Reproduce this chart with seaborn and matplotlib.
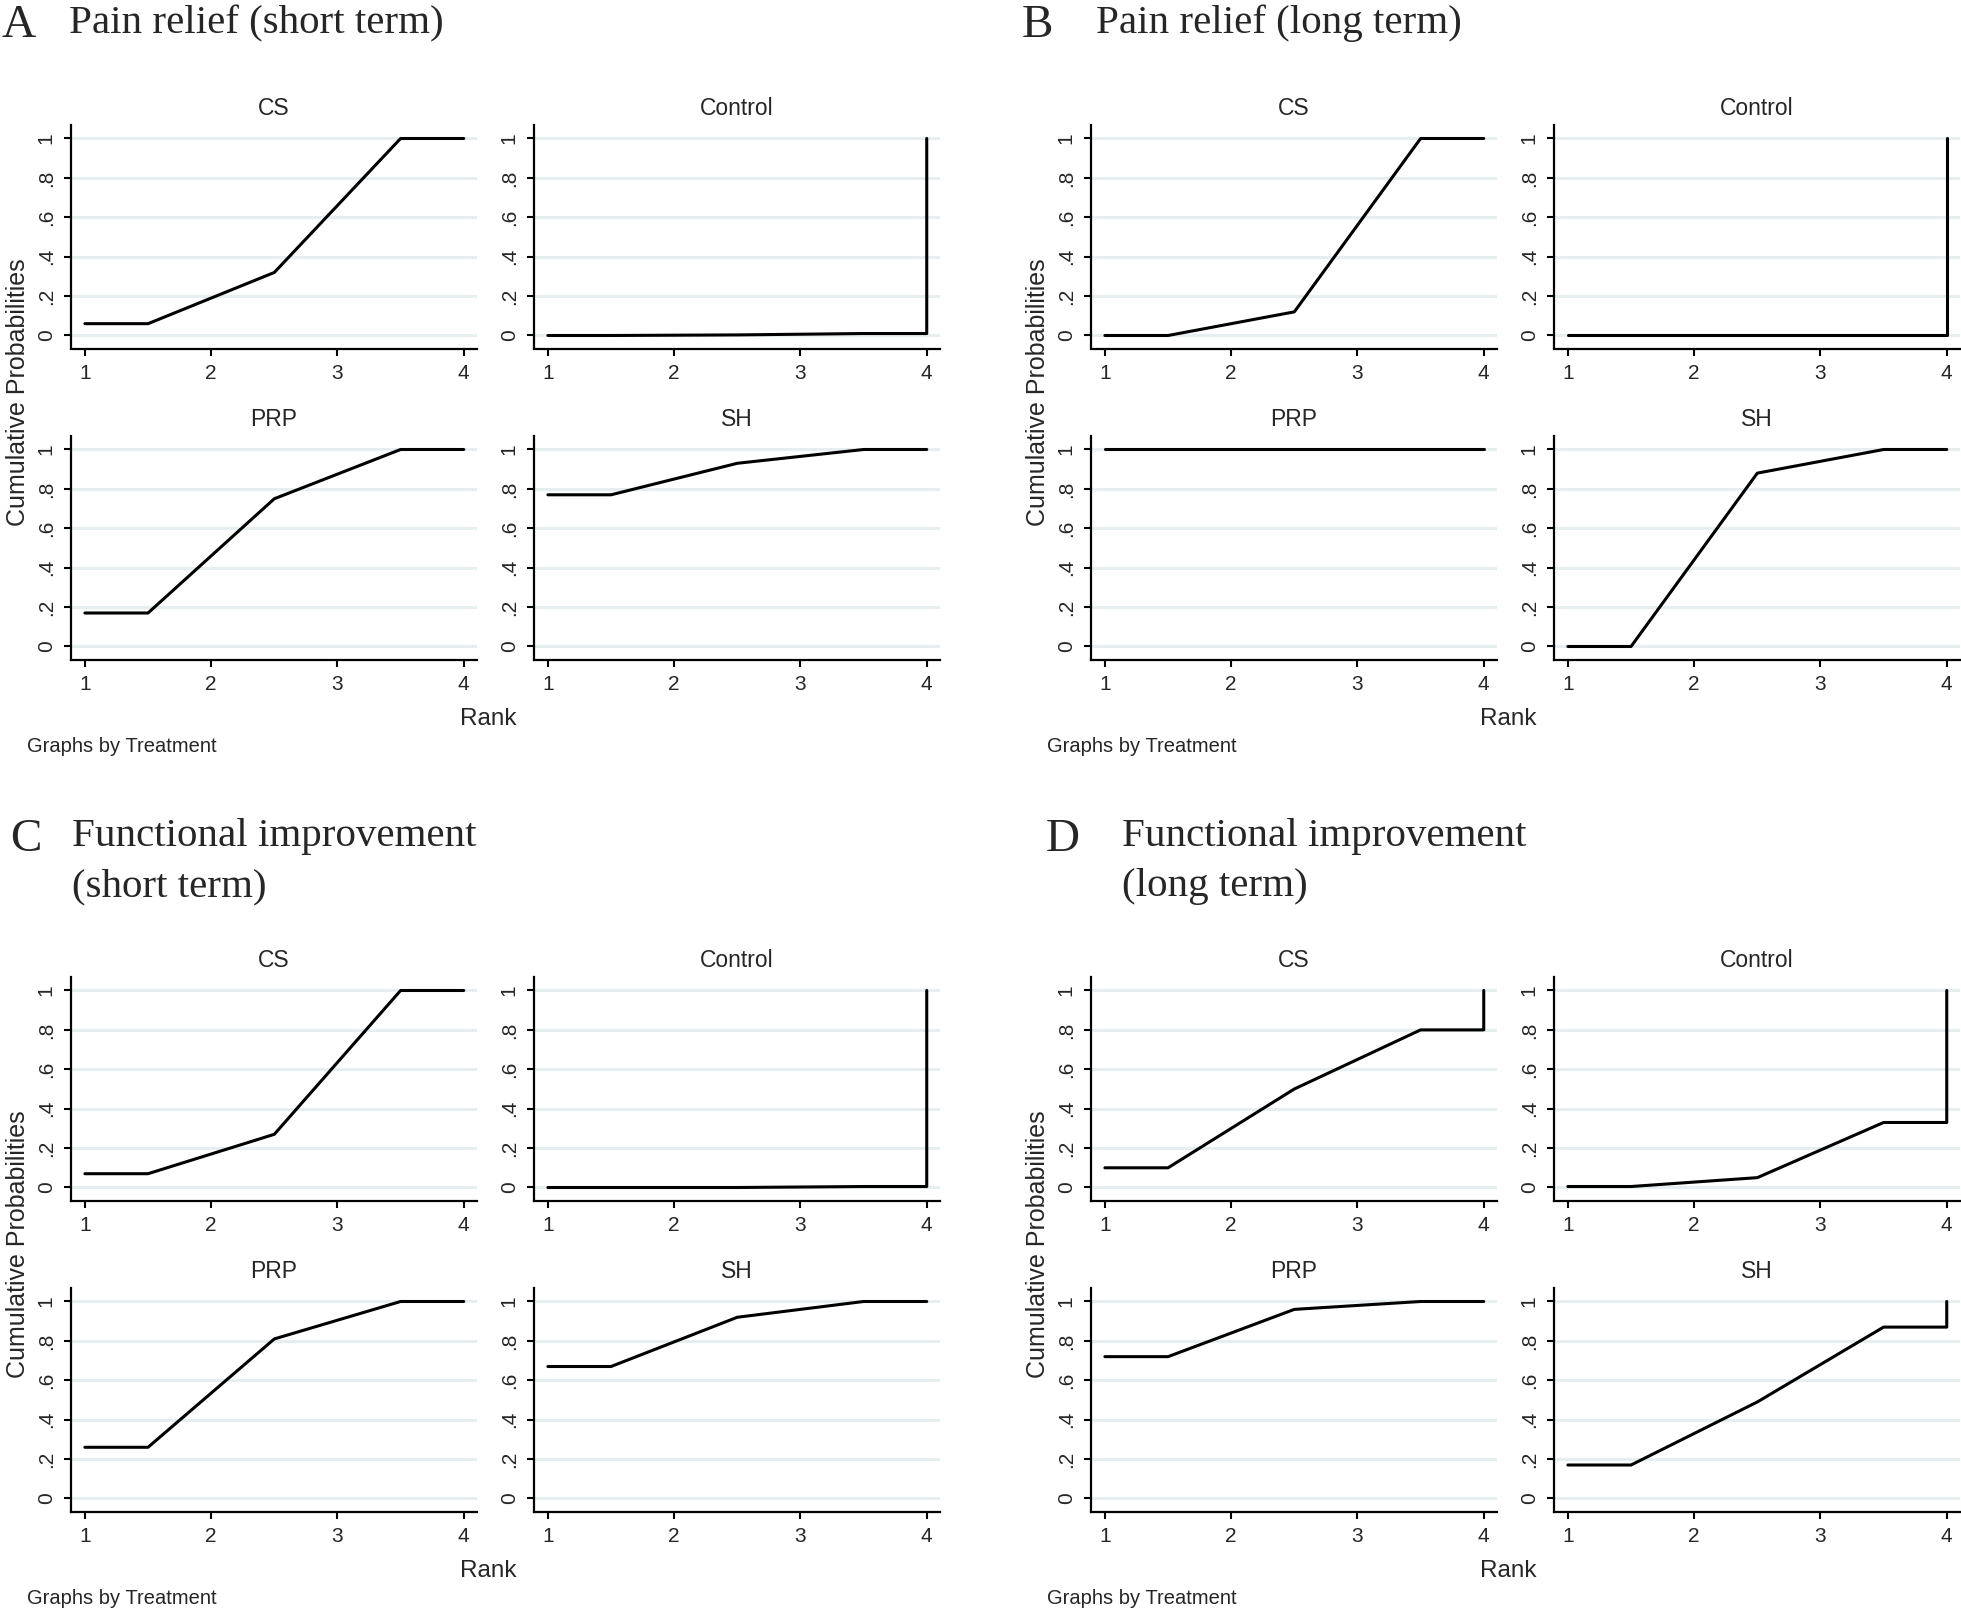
import numpy as np
import pandas as pd
import matplotlib
matplotlib.use("Agg")
import matplotlib.pyplot as plt
import seaborn as sns

# ---------------- data ----------------
treatments = ["CS", "Control", "PRP", "SH"]
ranks = [1, 2, 3, 4]

# cumulative ranking probabilities at rank 1..4
pain_short = {
    "CS":      [0.06, 0.32, 1.00, 1.00],
    "Control": [0.00, 0.003, 0.01, 1.00],
    "PRP":     [0.17, 0.75, 1.00, 1.00],
    "SH":      [0.77, 0.93, 1.00, 1.00],
}
pain_long = {
    "CS":      [0.00, 0.12, 1.00, 1.00],
    "Control": [0.00, 0.00, 0.00, 1.00],
    "PRP":     [1.00, 1.00, 1.00, 1.00],
    "SH":      [0.00, 0.88, 1.00, 1.00],
}
func_short = {
    "CS":      [0.07, 0.27, 1.00, 1.00],
    "Control": [0.00, 0.00, 0.005, 1.00],
    "PRP":     [0.26, 0.81, 1.00, 1.00],
    "SH":      [0.67, 0.92, 1.00, 1.00],
}
func_long = {
    "CS":      [0.10, 0.50, 0.80, 1.00],
    "Control": [0.005, 0.05, 0.33, 1.00],
    "PRP":     [0.72, 0.96, 1.00, 1.00],
    "SH":      [0.17, 0.49, 0.87, 1.00],
}

panel_letters = ["A", "B", "C", "D"]
panel_titles = [["Pain relief (short term)"], ["Pain relief (long term)"],
                ["Functional improvement", "(short term)"],
                ["Functional improvement", "(long term)"]]
panel_data = [pain_short, pain_long, func_short, func_long]

y_ticks = [0, 0.2, 0.4, 0.6, 0.8, 1.0]
y_tick_labels = ["0", ".2", ".4", ".6", ".8", "1"]
x_ticks = [1, 2, 3, 4]
x_tick_labels = ["1", "2", "3", "4"]

# ---------------- style ----------------
sns.set_style("white")
plt.rcParams["font.family"] = ["Liberation Sans", "DejaVu Sans"]
SERIF = ["Liberation Serif", "DejaVu Serif"]

W, H = 1961, 1611
DPI = 100
fig = plt.figure(figsize=(W / DPI, H / DPI), dpi=DPI)
fig.patch.set_facecolor("white")

GRID_COLOR = "#E6EEF0"


def px_axes(x0, y0, x1, y1):
    return fig.add_axes([x0 / W, 1 - y1 / H, (x1 - x0) / W, (y1 - y0) / H])


def fx(x):
    return x / W


def fy(y):
    return 1 - y / H


def path_frame(cum):
    # Stata-style connection of the cumulative ranking curve
    xs = [ranks[0], ranks[0] + 0.5, ranks[1] + 0.5, ranks[2] + 0.5, ranks[3], ranks[3]]
    ys = [cum[0], cum[0], cum[1], cum[2], cum[2], cum[3]]
    return pd.DataFrame({"Rank": xs, "Prob": ys})


col_x = [(71, 477), (534, 940)]
row_y = [(125, 348.5), (436, 659.5)]
offsets = [(0, 0), (1020, 0), (0, 852), (1020, 852)]
letter_pos = [(2, 37), (1022, 37), (10, 851), (1046, 851)]
title_pos = [(69, 33), (1096, 33), (72, 846), (1122, 846)]
TITLE_LINE = 50

for p, (dx, dy) in enumerate(offsets):
    data = panel_data[p]
    for i, trt in enumerate(treatments):
        r, c = divmod(i, 2)
        x0, x1 = col_x[c]
        y0, y1 = row_y[r]
        ax = px_axes(x0 + dx, y0 + dy, x1 + dx, y1 + dy)
        df = path_frame(data[trt])
        sns.lineplot(data=df, x="Rank", y="Prob", sort=False, estimator=None,
                     color="black", lw=2.2, ax=ax, legend=False)
        ax.set_xlim(0.89, 4.105)
        ax.set_ylim(-0.066, 1.0685)
        ax.set_xticks(x_ticks)
        ax.set_xticklabels(x_tick_labels, fontsize=15)
        ax.set_yticks(y_ticks)
        ax.set_yticklabels(y_tick_labels, fontsize=15, rotation=90, va="center")
        ax.set_xlabel("")
        ax.set_ylabel("")
        ax.grid(axis="y", color=GRID_COLOR, lw=2.2)
        ax.grid(axis="x", visible=False)
        ax.set_axisbelow(True)
        for s in ["top", "right"]:
            ax.spines[s].set_visible(False)
        for s in ["left", "bottom"]:
            ax.spines[s].set_color("black")
            ax.spines[s].set_linewidth(1.6)
        ax.tick_params(axis="both", direction="out", length=5, width=1.5,
                       color="black", pad=6, left=True, bottom=True)
        ax.set_facecolor("white")
        ax.set_title(trt, fontsize=16.5, pad=7)

    # shared labels for each block
    fig.text(fx(18 + dx), fy(392 + dy), "Cumulative Probabilities", rotation=90,
             ha="center", va="center", fontsize=18)
    fig.text(fx(488 + dx), fy(719 + dy), "Rank", ha="center", va="center", fontsize=17.5)
    fig.text(fx(27 + dx), fy(746 + dy), "Graphs by Treatment", ha="left",
             va="center", fontsize=14.5)

    lx, ly = letter_pos[p]
    fig.text(fx(lx), fy(ly), panel_letters[p], ha="left", va="baseline",
             fontsize=34, family=SERIF)
    tx, ty = title_pos[p]
    for k, line in enumerate(panel_titles[p]):
        fig.text(fx(tx), fy(ty + k * TITLE_LINE), line, ha="left", va="baseline",
                 fontsize=29.5, family=SERIF)

fig.savefig("out.png", dpi=DPI, facecolor="white")
